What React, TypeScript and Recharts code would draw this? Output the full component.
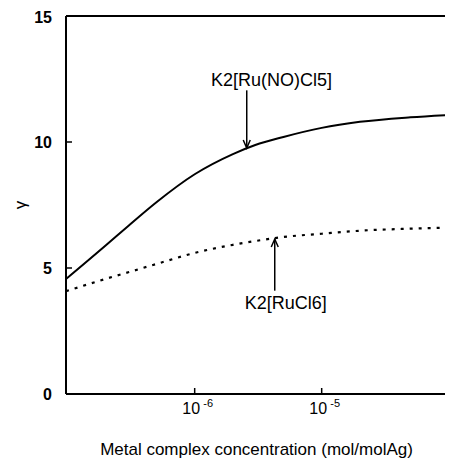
import React from 'react';
import { LineChart, Line, XAxis, YAxis, ReferenceLine, ReferenceDot } from 'recharts';

const concentrations = [9.7e-8, 2e-7, 3e-7, 5e-7, 1e-6, 2e-6, 3e-6, 5e-6, 1e-5, 2e-5, 5e-5, 9.7e-5];
const ruNOCl5 = [4.56, 5.9, 6.67, 7.61, 8.72, 9.52, 9.88, 10.2, 10.56, 10.8, 10.98, 11.07];
const ruCl6 = [4.08, 4.57, 4.83, 5.16, 5.6, 5.92, 6.07, 6.23, 6.36, 6.48, 6.56, 6.6];
const xTicks = [1e-6, 1e-5];
const yTicks = [0, 5, 10, 15];
const xDomain = [9.7e-8, 9.7e-5];
const yDomain = [0, 15];

const labelA = { text: 'K2[Ru(NO)Cl5]', x: 4.03e-6, y: 12.46, arrowX: 2.57e-6, from: 12.05, to: 9.76 };
const labelB = { text: 'K2[RuCl6]', x: 5.21e-6, y: 3.61, arrowX: 4.27e-6, from: 4.1, to: 6.15 };

const data = concentrations.map((c, i) => ({ c, a: ruNOCl5[i], b: ruCl6[i] }));

const FONT = 'Liberation Sans, Arial, Helvetica, sans-serif';

const XTick = (props: any) => {
  const { x, y, payload } = props;
  const exp = Math.round(Math.log10(payload.value));
  return (
    <text x={x + 3} y={y + 12} textAnchor="middle" fontFamily={FONT} fontSize={16} fill="#000">
      <tspan>10</tspan>
      <tspan dy={-7} fontSize={11}>{' ' + exp}</tspan>
    </text>
  );
};

const Arrow = (props: any) => {
  const { x1, y1, x2, y2 } = props;
  const s = Math.sign(y2 - y1) || 1;
  return (
    <g>
      <line x1={x1} y1={y1} x2={x2} y2={y2} stroke="#000" strokeWidth={1.5} />
      <path d={`M${x2 - 3.5},${y2 - 8 * s} L${x2},${y2} L${x2 + 3.5},${y2 - 8 * s}`} fill="none" stroke="#000" strokeWidth={1.5} />
    </g>
  );
};

const YLabel = (props: any) => {
  const vb = props.viewBox;
  const cx = 20 - 8;
  const cy = vb.y + vb.height / 2;
  return (
    <text x={cx} y={cy} textAnchor="middle" dominantBaseline="central" fontFamily={FONT} fontSize={17} transform={`rotate(-90 ${cx} ${cy})`} fill="#000">
      γ
    </text>
  );
};

export default function App() {
  return (
    <LineChart width={445} height={455} data={data} margin={{ top: 8, right: 6, left: 0, bottom: 8 }}>
      <XAxis
        dataKey="c"
        type="number"
        scale="log"
        domain={xDomain}
        ticks={xTicks}
        allowDataOverflow
        height={61}
        tickSize={-6}
        tickMargin={14}
        tick={<XTick />}
        tickLine={{ stroke: '#000', strokeWidth: 1.5 }}
        axisLine={{ stroke: '#000', strokeWidth: 2 }}
        label={{ value: 'Metal complex concentration (mol/molAg)', position: 'insideBottom', offset: 0, fontFamily: FONT, fontSize: 17, fill: '#000' }}
      />
      <YAxis
        type="number"
        domain={yDomain}
        ticks={yTicks}
        width={58}
        tickSize={-6}
        tickMargin={20}
        tick={{ fontFamily: FONT, fontSize: 16, fill: '#000', fontWeight: 'bold' }}
        tickLine={{ stroke: '#000', strokeWidth: 1.5 }}
        axisLine={{ stroke: '#000', strokeWidth: 2 }}
        label={<YLabel />}
      />
      <ReferenceLine y={15} stroke="#000" strokeWidth={2} />
      <ReferenceLine x={xDomain[1]} stroke="#000" strokeWidth={2} />
      <Line dataKey="a" type="monotone" stroke="#000" strokeWidth={2} dot={false} isAnimationActive={false} />
      <Line dataKey="b" type="monotone" stroke="#000" strokeWidth={2.2} strokeDasharray="3 6" dot={false} isAnimationActive={false} />
      <ReferenceLine segment={[{ x: labelA.arrowX, y: labelA.from }, { x: labelA.arrowX, y: labelA.to }]} shape={<Arrow />} />
      <ReferenceLine segment={[{ x: labelB.arrowX, y: labelB.from }, { x: labelB.arrowX, y: labelB.to }]} shape={<Arrow />} />
      <ReferenceDot x={labelA.x} y={labelA.y} r={1} fill="none" stroke="none"
        label={{ value: labelA.text, position: 'center', fontFamily: FONT, fontSize: 18, fill: '#000' }} />
      <ReferenceDot x={labelB.x} y={labelB.y} r={1} fill="none" stroke="none"
        label={{ value: labelB.text, position: 'center', fontFamily: FONT, fontSize: 18, fill: '#000' }} />
    </LineChart>
  );
}
